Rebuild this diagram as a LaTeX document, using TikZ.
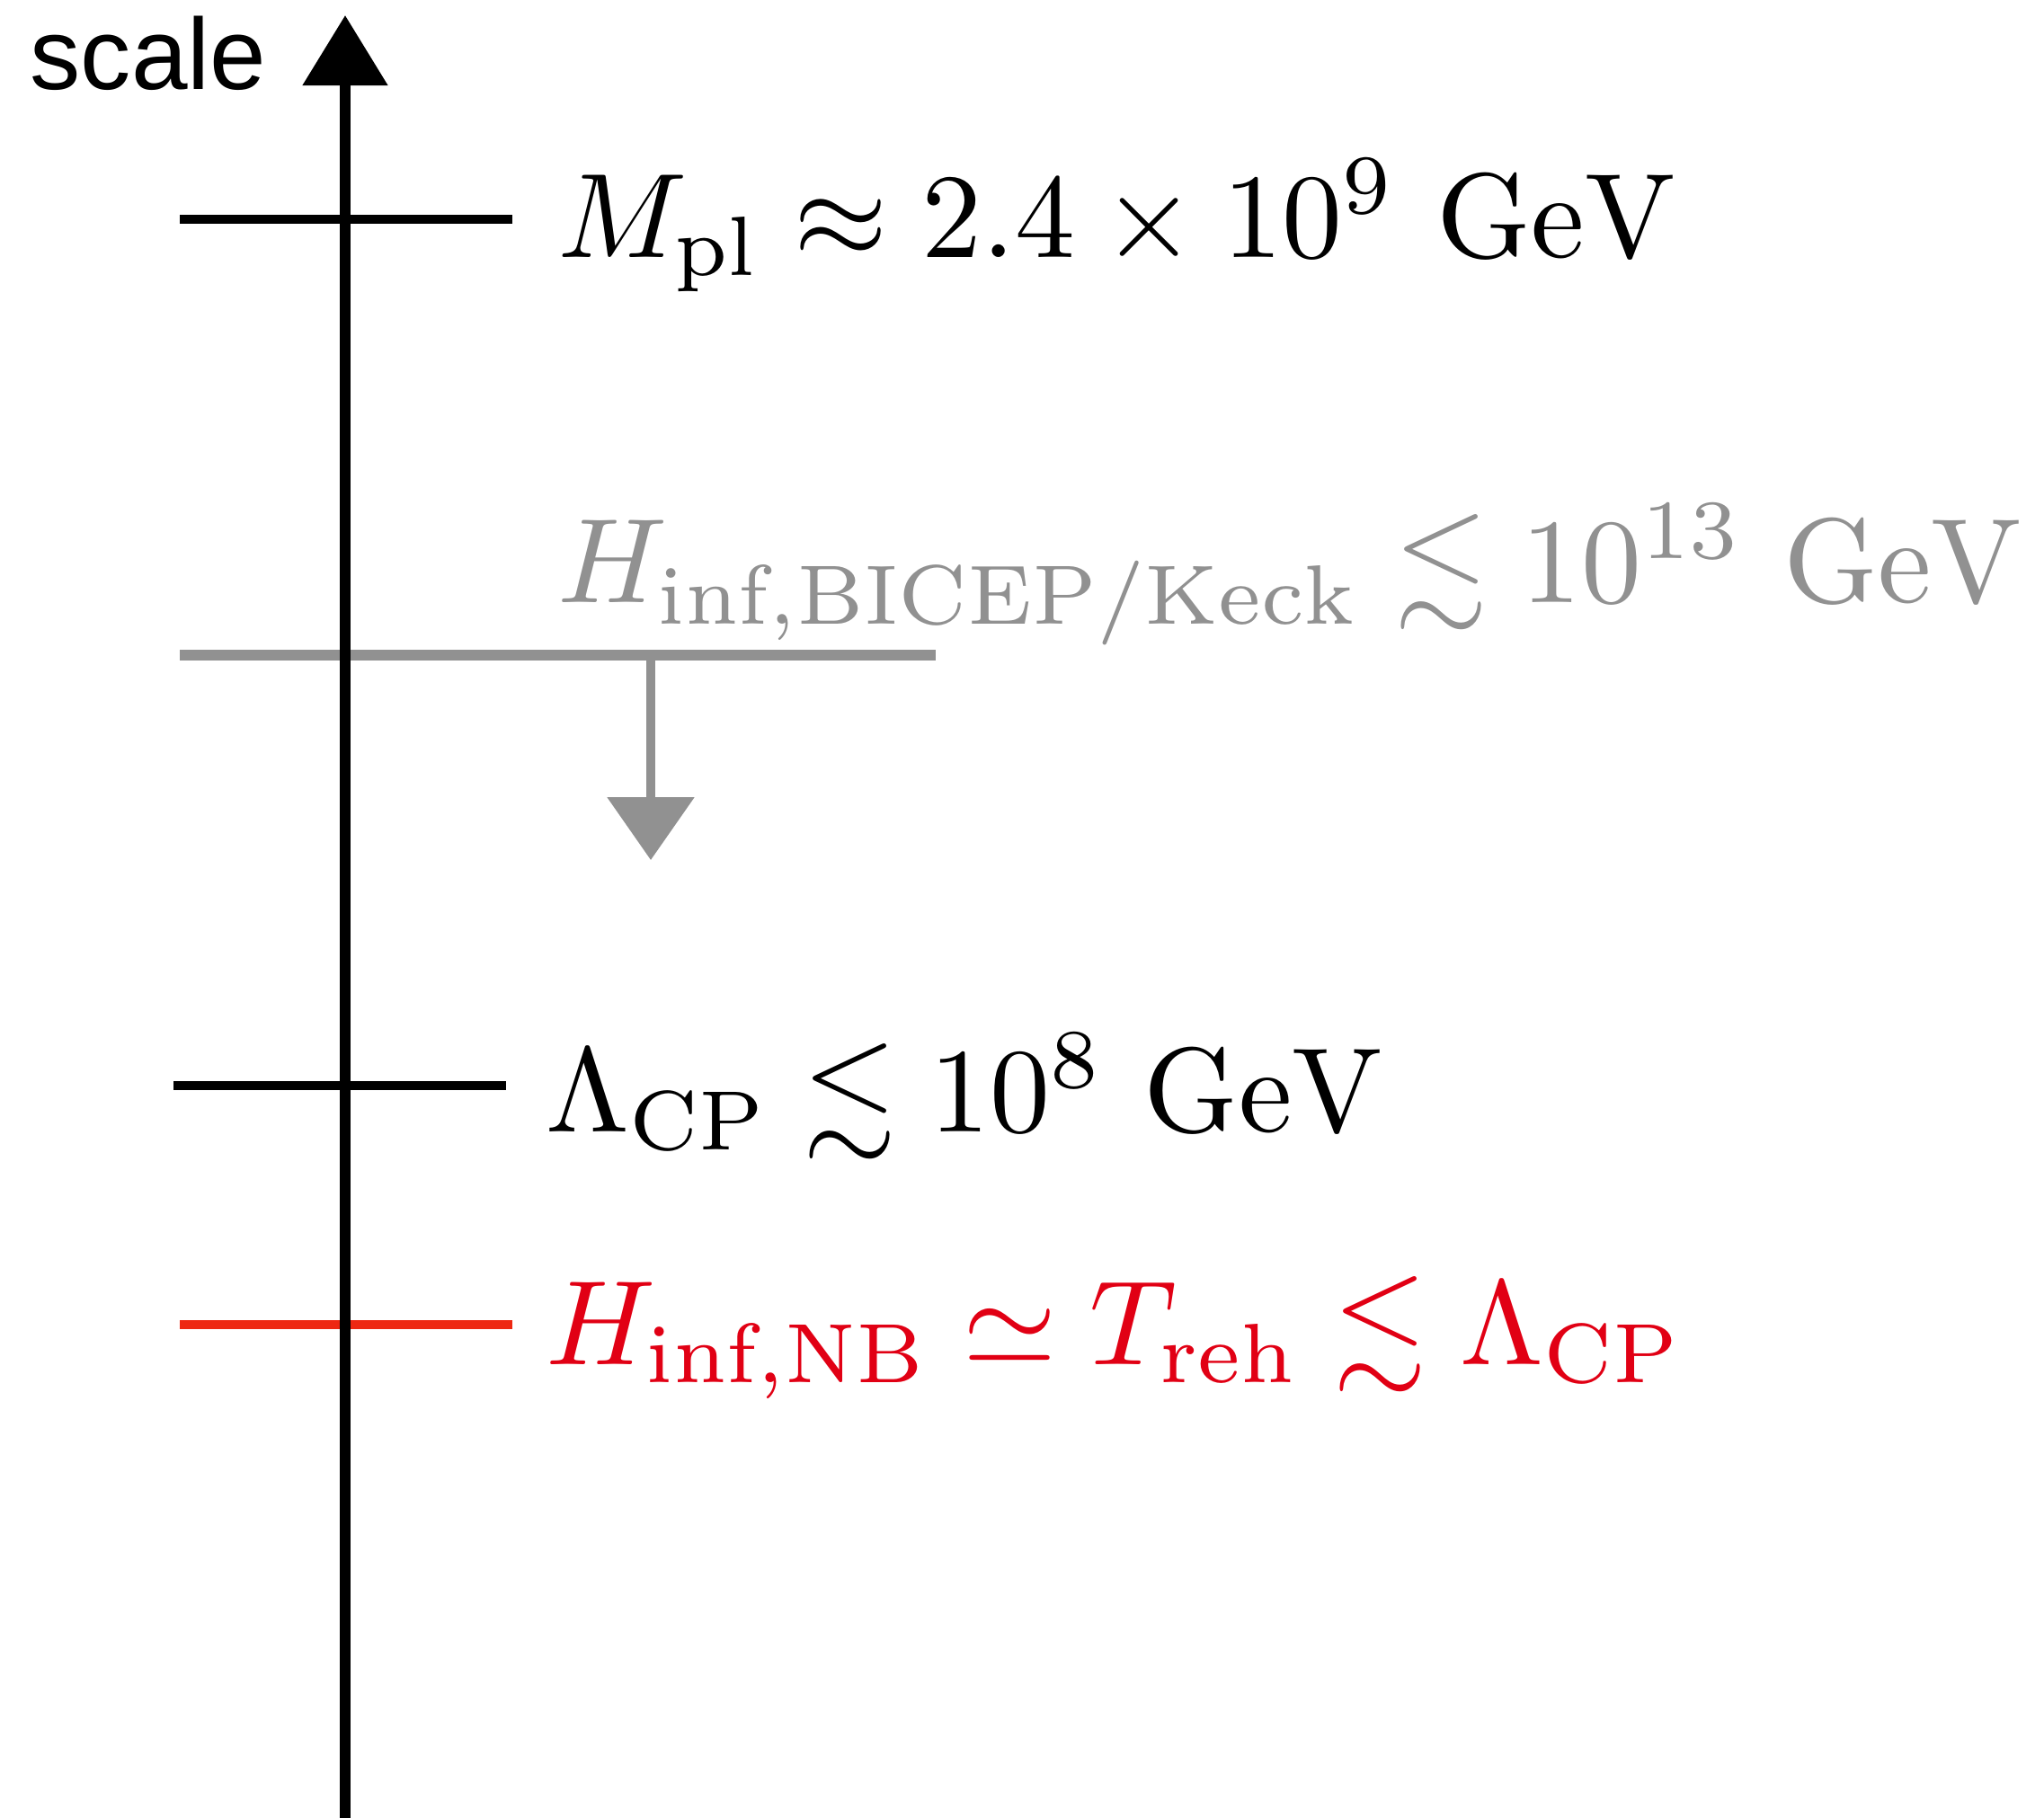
\documentclass[tikz,border=0pt]{standalone}
\usepackage{amsmath,amssymb}
\usepackage{fontspec}
\newfontfamily\axisfont{Liberation Sans}
\usepackage{tikz}
\usetikzlibrary{arrows.meta}
\definecolor{boundgray}{RGB}{145,145,145}
\definecolor{nbred}{RGB}{225,0,20}
\definecolor{tickred}{RGB}{238,40,18}
\tikzset{level/.style={anchor=base west,inner sep=0pt,scale=3.81,transform shape}}

\begin{document}
\begin{tikzpicture}[>={Triangle[width=0.92cm,length=0.78cm]}]
    \useasboundingbox (0,0) rectangle (22.74,-20.23);
    \node[anchor=base west,inner sep=0pt,font=\axisfont\fontsize{32}{36}\selectfont] (scale) at (0.33,-0.99) {scale};

    \coordinate (mpl-l) at (2.00,-2.44);
    \coordinate (mpl-r) at (5.70,-2.44);
    \draw[line width=3pt] (mpl-l) -- (mpl-r);
    \node[level] (mpl) at (6.18,-2.86)
      {$M_{\rm pl}\approx 2.4\times 10^9~{\rm GeV}$};

    \coordinate (bicep-l) at (2.00,-7.29);
    \coordinate (bicep-r) at (10.41,-7.29);
    \coordinate (bicep-mid) at (7.24,-7.29);
    \coordinate (bicep-end) at (7.24,-9.57);
    \draw[line width=3.4pt,boundgray] (bicep-l) -- (bicep-r);
    \draw[->,line width=2.8pt,boundgray,>={Triangle[width=0.95cm,length=0.7cm]}] (bicep-mid) -- (bicep-end);
    \node[level,text=boundgray] (bicep) at (6.18,-6.70)
      {$H_{\rm inf,BICEP/Keck}\lesssim 10^{13}~{\rm GeV}$};

    \coordinate (cp-l) at (1.93,-12.08);
    \coordinate (cp-r) at (5.63,-12.08);
    \draw[line width=3pt] (cp-l) -- (cp-r);
    \node[level] (cp) at (6.05,-12.59)
      {$\Lambda_{\rm CP}\lesssim 10^8~{\rm GeV}$};

    \coordinate (nb-l) at (2.00,-14.74);
    \coordinate (nb-r) at (5.70,-14.74);
    \draw[line width=3pt,tickred] (nb-l) -- (nb-r);
    \node[level,text=nbred] (nb) at (6.05,-15.18)
      {$H_{\rm inf,NB}\simeq T_{\rm reh}\lesssim \Lambda_{\rm CP}$};

    \coordinate (axbot) at (3.84,-20.23);
    \coordinate (axtop) at (3.84,-0.17);
    \draw[->,line width=3.4pt] (axbot) -- (axtop);
  \end{tikzpicture}
\end{document}
